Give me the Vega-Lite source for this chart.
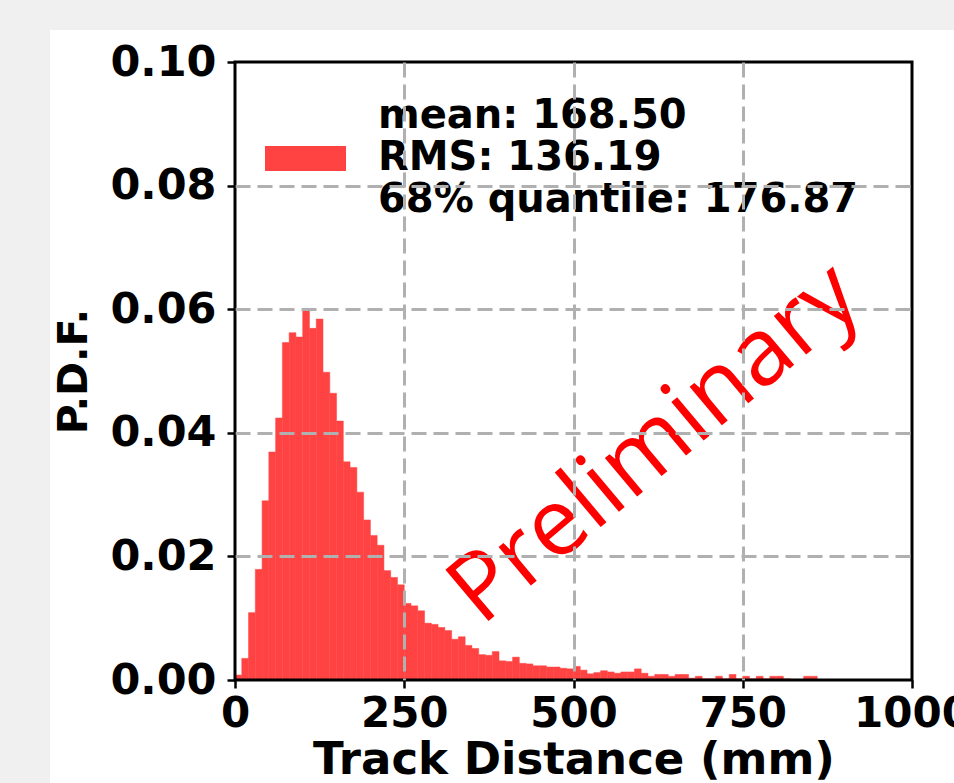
{
  "$schema": "https://vega.github.io/schema/vega-lite/v6.json",
  "width": 677,
  "height": 618,
  "autosize": {"type": "none"},
  "padding": {"left": 235, "top": 62, "right": 42, "bottom": 103},
  "background": "#f0f0f0",
  "config": {
    "view": {"stroke": null},
    "font": "DejaVu Sans"
  },
  "layer": [
    {
      "data": {"values": [{}]},
      "mark": {"type": "rect", "color": "white", "clip": false},
      "encoding": {
        "x": {"datum": -273.3, "type": "quantitative"},
        "x2": {"datum": 2000},
        "y": {"datum": 0.10518, "type": "quantitative"},
        "y2": {"datum": -0.05}
      }
    },
    {
      "data": {"values": [
        {"start": 0, "end": 10, "pdf": 0.0008},
        {"start": 10, "end": 20, "pdf": 0.0035},
        {"start": 20, "end": 30, "pdf": 0.0109},
        {"start": 30, "end": 40, "pdf": 0.0179},
        {"start": 40, "end": 50, "pdf": 0.0290},
        {"start": 50, "end": 60, "pdf": 0.0369},
        {"start": 60, "end": 70, "pdf": 0.0424},
        {"start": 70, "end": 80, "pdf": 0.0546},
        {"start": 80, "end": 90, "pdf": 0.0562},
        {"start": 90, "end": 100, "pdf": 0.0555},
        {"start": 100, "end": 110, "pdf": 0.0598},
        {"start": 110, "end": 120, "pdf": 0.0569},
        {"start": 120, "end": 130, "pdf": 0.0584},
        {"start": 130, "end": 140, "pdf": 0.0498},
        {"start": 140, "end": 150, "pdf": 0.0464},
        {"start": 150, "end": 160, "pdf": 0.0419},
        {"start": 160, "end": 170, "pdf": 0.0353},
        {"start": 170, "end": 180, "pdf": 0.0344},
        {"start": 180, "end": 190, "pdf": 0.0304},
        {"start": 190, "end": 200, "pdf": 0.0259},
        {"start": 200, "end": 210, "pdf": 0.0234},
        {"start": 210, "end": 220, "pdf": 0.0218},
        {"start": 220, "end": 230, "pdf": 0.0177},
        {"start": 230, "end": 240, "pdf": 0.0166},
        {"start": 240, "end": 250, "pdf": 0.0154},
        {"start": 250, "end": 260, "pdf": 0.0124},
        {"start": 260, "end": 270, "pdf": 0.0120},
        {"start": 270, "end": 280, "pdf": 0.0112},
        {"start": 280, "end": 290, "pdf": 0.0092},
        {"start": 290, "end": 300, "pdf": 0.0090},
        {"start": 300, "end": 310, "pdf": 0.0085},
        {"start": 310, "end": 320, "pdf": 0.0080},
        {"start": 320, "end": 330, "pdf": 0.0066},
        {"start": 330, "end": 340, "pdf": 0.0070},
        {"start": 340, "end": 350, "pdf": 0.0056},
        {"start": 350, "end": 360, "pdf": 0.0051},
        {"start": 360, "end": 370, "pdf": 0.0041},
        {"start": 370, "end": 380, "pdf": 0.0040},
        {"start": 380, "end": 390, "pdf": 0.0046},
        {"start": 390, "end": 400, "pdf": 0.0031},
        {"start": 400, "end": 410, "pdf": 0.0030},
        {"start": 410, "end": 420, "pdf": 0.0037},
        {"start": 420, "end": 430, "pdf": 0.0027},
        {"start": 430, "end": 440, "pdf": 0.0026},
        {"start": 440, "end": 450, "pdf": 0.0023},
        {"start": 450, "end": 460, "pdf": 0.0023},
        {"start": 460, "end": 470, "pdf": 0.0021},
        {"start": 470, "end": 480, "pdf": 0.0021},
        {"start": 480, "end": 490, "pdf": 0.0019},
        {"start": 490, "end": 500, "pdf": 0.0018},
        {"start": 500, "end": 510, "pdf": 0.0022},
        {"start": 510, "end": 520, "pdf": 0.0016},
        {"start": 520, "end": 530, "pdf": 0.0010},
        {"start": 530, "end": 540, "pdf": 0.0012},
        {"start": 540, "end": 550, "pdf": 0.0015},
        {"start": 550, "end": 560, "pdf": 0.0013},
        {"start": 560, "end": 570, "pdf": 0.0011},
        {"start": 570, "end": 580, "pdf": 0.0013},
        {"start": 580, "end": 590, "pdf": 0.0013},
        {"start": 590, "end": 600, "pdf": 0.0018},
        {"start": 600, "end": 610, "pdf": 0.0011},
        {"start": 610, "end": 620, "pdf": 0.0006},
        {"start": 620, "end": 630, "pdf": 0.0009},
        {"start": 630, "end": 640, "pdf": 0.0009},
        {"start": 640, "end": 650, "pdf": 0.0006},
        {"start": 650, "end": 660, "pdf": 0.0009},
        {"start": 660, "end": 670, "pdf": 0.0009},
        {"start": 670, "end": 680, "pdf": 0.0003},
        {"start": 680, "end": 690, "pdf": 0.0006},
        {"start": 690, "end": 700, "pdf": 0.0002},
        {"start": 700, "end": 710, "pdf": 0.0002},
        {"start": 710, "end": 720, "pdf": 0.0006},
        {"start": 720, "end": 730, "pdf": 0.0002},
        {"start": 730, "end": 740, "pdf": 0.0009},
        {"start": 740, "end": 750, "pdf": 0.0002},
        {"start": 750, "end": 760, "pdf": 0.0006},
        {"start": 760, "end": 770, "pdf": 0.0002},
        {"start": 770, "end": 780, "pdf": 0.0006},
        {"start": 780, "end": 790, "pdf": 0.0002},
        {"start": 790, "end": 800, "pdf": 0.0006},
        {"start": 800, "end": 810, "pdf": 0.0006},
        {"start": 810, "end": 820, "pdf": 0.0002},
        {"start": 820, "end": 830, "pdf": 0.0001},
        {"start": 830, "end": 840, "pdf": 0.0001},
        {"start": 840, "end": 850, "pdf": 0.0006},
        {"start": 850, "end": 860, "pdf": 0.0006}
      ]},
      "mark": {"type": "rect", "stroke": "#ff4343", "strokeWidth": 0.5},
      "encoding": {
        "x": {
          "field": "start", "type": "quantitative",
          "scale": {"domain": [0, 1000], "nice": false, "zero": false},
          "axis": {
            "values": [0, 250, 500, 750, 1000],
            "format": "d",
            "title": "Track Distance (mm)",
            "titleFont": "DejaVu Sans", "titleFontSize": 45, "titleFontWeight": "bold", "titleColor": "black", "titlePadding": 3,
            "labelFont": "DejaVu Sans", "labelFontSize": 42, "labelFontWeight": "bold", "labelColor": "black",
            "labelPadding": 5, "labelFlush": false, "labelOverlap": false,
            "tickSize": 8, "tickWidth": 2.5, "tickColor": "black",
            "domain": false,
            "grid": true, "gridColor": "#b0b0b0", "gridDash": [15, 7], "gridWidth": 3,
            "gridOpacity": {"condition": {"test": "datum.value == 0 || datum.value == 1000", "value": 0}, "value": 1},
            "zindex": 1
          }
        },
        "x2": {"field": "end"},
        "y": {
          "field": "pdf", "type": "quantitative",
          "scale": {"domain": [0, 0.1], "nice": false},
          "axis": {
            "values": [0, 0.02, 0.04, 0.06, 0.08, 0.1],
            "format": ".2f",
            "title": "P.D.F.",
            "titleFont": "DejaVu Sans", "titleFontSize": 41, "titleFontWeight": "bold", "titleColor": "black", "titlePadding": 14,
            "labelFont": "DejaVu Sans", "labelFontSize": 43, "labelFontWeight": "bold", "labelColor": "black",
            "labelPadding": 11, "labelFlush": false, "labelOverlap": false,
            "tickSize": 8, "tickWidth": 2.5, "tickColor": "black",
            "domain": false,
            "grid": true, "gridColor": "#b0b0b0", "gridDash": [15, 7], "gridWidth": 3,
            "gridOpacity": {"condition": {"test": "datum.value < 0.001 || datum.value > 0.099", "value": 0}, "value": 1},
            "zindex": 1
          }
        },
        "color": {
          "datum": "Track Distance",
          "scale": {"range": ["#ff4343"]},
          "legend": {
            "orient": "none", "legendX": 30, "legendY": 13,
            "title": null,
            "padding": 0,
            "labelExpr": "['mean: 168.50', 'RMS: 136.19', '68% quantile: 176.87']",
            "labelFont": "DejaVu Sans", "labelFontSize": 40, "labelFontWeight": "bold", "labelColor": "black",
            "labelLimit": 2000, "labelOffset": 32, "labelBaseline": "middle",
            "symbolType": "M-1,0.75H1V1.37H-1Z", "symbolSize": 6561,
            "symbolStrokeWidth": 0, "symbolFillColor": "#ff4343", "symbolOpacity": 1,
            "encode": {"labels": {"update": {"lineHeight": {"value": 39.5}}}}
          }
        }
      }
    },
    {
      "data": {"values": [{}]},
      "mark": {"type": "rect", "fill": null, "fillOpacity": 0, "stroke": "black", "strokeWidth": 3, "clip": false},
      "encoding": {
        "x": {"datum": 0, "type": "quantitative"},
        "x2": {"datum": 1000},
        "y": {"datum": 0, "type": "quantitative"},
        "y2": {"datum": 0.1}
      }
    },
    {
      "data": {"values": [{}]},
      "mark": {"type": "text", "text": "Preliminary", "angle": -40, "font": "Open Sans", "fontSize": 94, "color": "#ff0000", "align": "center", "baseline": "middle"},
      "encoding": {
        "x": {"datum": 621, "type": "quantitative"},
        "y": {"datum": 0.0381, "type": "quantitative"}
      }
    }
  ]
}
